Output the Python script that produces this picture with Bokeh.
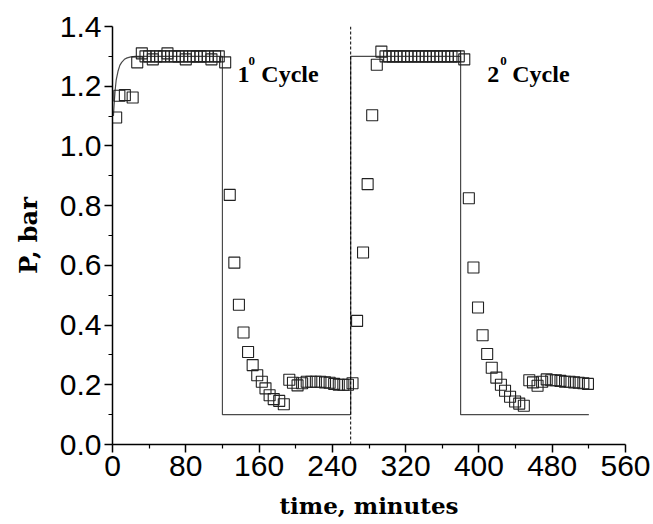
from bokeh.plotting import figure
from bokeh.models import FixedTicker, Range1d, Span, Label
from bokeh.embed import file_html
from bokeh.resources import INLINE

# ---- data ----
# experimental points, cycle 1
t_c1 = [4, 7.5, 13.5, 22, 27, 32,
        36, 40, 44, 48, 52, 56, 60, 64, 68, 72, 76, 80, 84, 88, 92, 96, 100, 104, 108, 112, 116, 123,
        128, 133, 138, 143, 148, 153, 158, 163, 167, 171.5, 176, 182, 187,
        193, 197, 202, 207, 212, 217, 222, 227, 232, 237, 242, 247, 252, 257, 262]
p_c1 = [1.095, 1.168, 1.17, 1.162, 1.28, 1.31,
        1.30, 1.30, 1.29, 1.30, 1.30, 1.30, 1.31, 1.30, 1.30, 1.30, 1.30, 1.29, 1.30, 1.30, 1.30, 1.30, 1.30, 1.30, 1.29, 1.30, 1.30, 1.28,
        0.836, 0.609, 0.468, 0.375, 0.31, 0.266, 0.232, 0.21, 0.188, 0.165, 0.152, 0.146, 0.135,
        0.217, 0.207, 0.198, 0.205, 0.21, 0.21, 0.21, 0.21, 0.208, 0.207, 0.203, 0.2, 0.2, 0.2, 0.205]
# experimental points, cycle 2
t_c2 = [267, 273.5, 278.5, 283.5, 288.5, 293.5,
        298, 302, 306, 310, 314, 318, 322, 326, 330, 334, 338, 342, 346, 350, 354, 358, 362, 366, 370, 374, 378, 384,
        389, 394, 399, 404, 409, 414, 419, 424, 428.5, 434, 439.5, 444, 449,
        455, 459, 464, 469, 474, 479, 484, 489, 494, 499, 504, 509, 514, 519]
p_c2 = [0.414, 0.643, 0.872, 1.103, 1.272, 1.316,
        1.30, 1.30, 1.30, 1.30, 1.30, 1.30, 1.30, 1.30, 1.30, 1.30, 1.30, 1.30, 1.30, 1.30, 1.30, 1.30, 1.30, 1.30, 1.30, 1.30, 1.30, 1.29,
        0.825, 0.593, 0.459, 0.366, 0.303, 0.257, 0.224, 0.2, 0.18, 0.16, 0.144, 0.137, 0.13,
        0.215, 0.208, 0.197, 0.21, 0.218, 0.215, 0.215, 0.213, 0.21, 0.21, 0.208, 0.207, 0.205, 0.203]
# model (set-point) line
t_line = [1, 2, 3, 4, 6, 8, 10, 13, 16, 20, 25, 30, 120, 120, 260, 260, 380, 380, 520]
p_line = [1.10, 1.15, 1.19, 1.22, 1.25, 1.27, 1.28, 1.29, 1.295, 1.298, 1.30, 1.30, 1.30, 0.10, 0.10, 1.30, 1.30, 0.10, 0.10]
t_divider = 260

x_ticks = [0, 80, 160, 240, 320, 400, 480, 560]
y_ticks = [0.0, 0.2, 0.4, 0.6, 0.8, 1.0, 1.2, 1.4]
y_tick_labels = ["0.0", "0.2", "0.4", "0.6", "0.8", "1.0", "1.2", "1.4"]

p = figure(width=653, height=524, output_backend="svg", toolbar_location=None,
           x_range=Range1d(0, 560), y_range=Range1d(0, 1.4),
           min_border_left=112, min_border_right=28, min_border_top=26, min_border_bottom=80)
p.outline_line_color = None
p.xgrid.visible = False
p.ygrid.visible = False
p.background_fill_color = "white"
p.border_fill_color = "white"

# model line
p.line(t_line, p_line, line_color="#4a4a4a", line_width=1.2)
p.add_layout(Span(location=t_divider, dimension="height", line_color="black",
                  line_dash="3 2", line_width=1))

# data points
for tt, pp in ((t_c1, p_c1), (t_c2, p_c2)):
    p.scatter(tt, pp, marker="square", size=11, fill_color=None,
              line_color="#222222", line_width=1.1)

# axes
for ax in (p.xaxis, p.yaxis):
    ax.axis_line_color = "black"
    ax.axis_line_width = 1.5
    ax.major_tick_line_color = "black"
    ax.major_tick_line_width = 1.5
    ax.minor_tick_line_color = "black"
    ax.minor_tick_line_width = 1.2
    ax.major_tick_in = 0
    ax.major_tick_out = 8
    ax.minor_tick_in = 0
    ax.minor_tick_out = 4
    ax.major_label_text_font = "Liberation Sans"
    ax.major_label_text_font_size = "30px"
    ax.major_label_text_color = "black"
    ax.axis_label_text_font = "DejaVu Serif"
    ax.axis_label_text_font_style = "bold"
    ax.axis_label_text_color = "black"

p.xaxis.axis_label_text_font_size = "23px"
p.yaxis.axis_label_text_font_size = "24px"
p.xaxis.ticker = FixedTicker(ticks=x_ticks, minor_ticks=[40, 120, 200, 280, 360, 440, 520])
p.yaxis.ticker = FixedTicker(ticks=y_ticks, minor_ticks=[0.1, 0.3, 0.5, 0.7, 0.9, 1.1, 1.3])
p.yaxis.major_label_overrides = {v: s for v, s in zip(y_ticks, y_tick_labels)}
p.xaxis.major_label_standoff = 3
p.yaxis.major_label_standoff = 3
p.xaxis.axis_label = "time, minutes"
p.yaxis.axis_label = "P, bar"
p.xaxis.axis_label_standoff = 13
p.yaxis.axis_label_standoff = 14

# cycle labels
def add_cycle_label(x_num, x_sup, x_word, num):
    common = dict(text_font="Liberation Serif", text_font_style="bold",
                  text_color="black", text_baseline="alphabetic")
    p.add_layout(Label(x=x_num, y=1.24, text=num, text_font_size="24px", **common))
    p.add_layout(Label(x=x_sup, y=1.286, text="0", text_font_size="13px", **common))
    p.add_layout(Label(x=x_word, y=1.24, text="Cycle", text_font_size="24px", **common))

add_cycle_label(136.4, 148.4, 162.5, "1")
add_cycle_label(409.0, 423.3, 436.4, "2")

open("out.html", "w").write(file_html(p, INLINE))
